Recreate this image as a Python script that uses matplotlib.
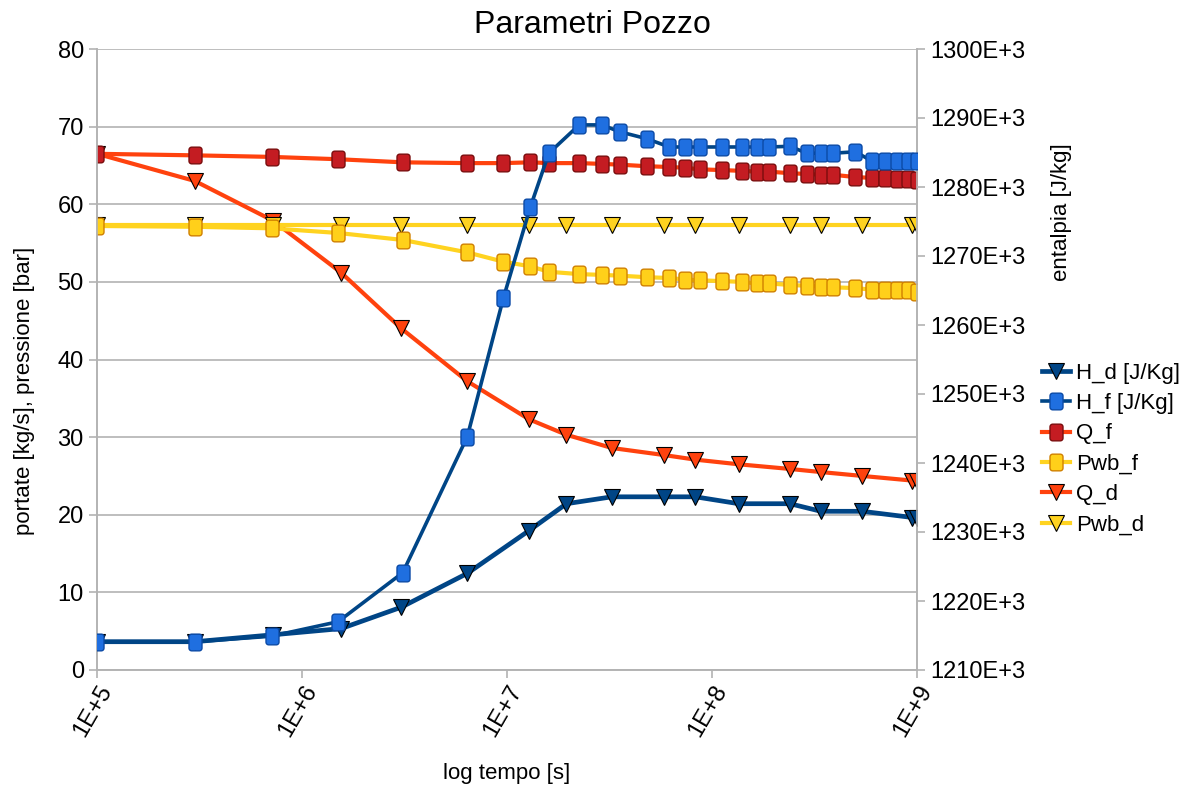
import math
import numpy as np
import matplotlib
matplotlib.use("Agg")
import matplotlib.pyplot as plt
from matplotlib.path import Path
from matplotlib.ticker import FixedLocator, FuncFormatter, NullLocator

plt.rcParams['font.family'] = ['Liberation Sans', 'DejaVu Sans']

# tempi serie "d" e "f" [s]
t_d = [1e5, 3e5, 7.2e5, 1.55e6, 3.05e6, 6.4e6, 1.28e7, 1.95e7, 3.25e7, 5.8e7,
       8.3e7, 1.35e8, 2.4e8, 3.4e8, 5.4e8, 9.5e8, 1e9]
t_f = [1e5, 3e5, 7.1e5, 1.5e6, 3.1e6, 6.4e6, 9.6e6, 1.3e7, 1.6e7, 2.25e7,
       2.9e7, 3.55e7, 4.8e7, 6.2e7, 7.4e7, 8.7e7, 1.12e8, 1.4e8, 1.65e8, 1.9e8,
       2.4e8, 2.9e8, 3.4e8, 3.9e8, 5e8, 6e8, 7e8, 8e8, 9e8, 1e9]

# entalpia [E+3 J/kg]
H_d = [1214.1, 1214.1, 1215.1, 1216.0, 1219.1, 1224.0, 1230.2, 1234.1, 1235.1, 1235.1,
       1235.1, 1234.1, 1234.1, 1233.0, 1233.0, 1232.1, 1232.0]
H_f = [1214.1, 1214.1, 1214.9, 1217.0, 1224.1, 1243.8, 1263.9, 1277.1, 1284.9, 1289.0,
       1289.0, 1288.0, 1287.0, 1285.8, 1285.8, 1285.8, 1285.8, 1285.8, 1285.8, 1285.8,
       1285.9, 1284.9, 1284.9, 1284.9, 1285.1, 1283.8, 1283.8, 1283.8, 1283.8, 1283.8]

# portate [kg/s] e pressioni [bar]
Q_d = [66.5, 63.0, 57.9, 51.2, 44.0, 37.2, 32.3, 30.3, 28.6, 27.7,
       27.1, 26.5, 25.9, 25.5, 25.0, 24.4, 24.3]
Pwb_d = [57.3, 57.3, 57.3, 57.3, 57.3, 57.3, 57.3, 57.3, 57.3, 57.3,
         57.3, 57.3, 57.3, 57.3, 57.3, 57.3, 57.3]
Q_f = [66.5, 66.3, 66.1, 65.8, 65.4, 65.3, 65.3, 65.4, 65.3, 65.3,
       65.2, 65.1, 64.9, 64.8, 64.7, 64.5, 64.4, 64.3, 64.2, 64.2,
       64.0, 63.9, 63.8, 63.8, 63.5, 63.4, 63.4, 63.3, 63.3, 63.1]
Pwb_f = [57.2, 57.1, 56.9, 56.3, 55.4, 53.8, 52.6, 52.0, 51.3, 51.0,
         50.9, 50.8, 50.6, 50.5, 50.3, 50.2, 50.1, 50.0, 49.8, 49.8,
         49.6, 49.5, 49.4, 49.3, 49.2, 49.0, 49.0, 48.9, 48.9, 48.7]

x_ticks = [1e5, 1e6, 1e7, 1e8, 1e9]
left_ticks = [0, 10, 20, 30, 40, 50, 60, 70, 80]
right_ticks = [1210, 1220, 1230, 1240, 1250, 1260, 1270, 1280, 1290, 1300]

grigio = '#b3b3b3'
blu = '#004586'
rosso = '#ff420e'
giallo = '#ffd320'


def quadrato_arrotondato(w=0.78, h=1.0, r=0.16, n=6):
    """marker a forma di rettangolo con angoli arrotondati"""
    pts = []
    for cx, cy, a0 in [(w/2 - r, h/2 - r, 0), (-w/2 + r, h/2 - r, 90),
                       (-w/2 + r, -h/2 + r, 180), (w/2 - r, -h/2 + r, 270)]:
        for a in np.linspace(a0, a0 + 90, n):
            pts.append((cx + r*math.cos(math.radians(a)), cy + r*math.sin(math.radians(a))))
    pts.append(pts[0])
    return Path(pts, closed=True)


mq = quadrato_arrotondato()

fig = plt.figure(figsize=(11.89, 7.91), dpi=100)
ax1 = fig.add_axes([97 / 1189, 1 - 670 / 791, 820 / 1189, 621 / 791])
ax2 = ax1.twinx()

lQd, = ax1.plot(t_d, Q_d, color=rosso, lw=3.0, marker='v', ms=11,
                mfc=rosso, mec='black', mew=0.8, label='Q_d', zorder=2)
lPd, = ax1.plot(t_d, Pwb_d, color=giallo, lw=3.0, marker='v', ms=11,
                mfc=giallo, mec='black', mew=0.8, label='Pwb_d', zorder=2)
lQf, = ax1.plot(t_f, Q_f, color=rosso, lw=3.0, marker=mq, ms=12,
                mfc='#c41c22', mec='#7a0d0d', mew=1.0, label='Q_f', zorder=3)
lPf, = ax1.plot(t_f, Pwb_f, color=giallo, lw=3.0, marker=mq, ms=12,
                mfc='#ffd01a', mec='#d08000', mew=1.0, label='Pwb_f', zorder=3)

lHd, = ax2.plot(t_d, H_d, color=blu, lw=3.4, marker='v', ms=11,
                mfc=blu, mec='black', mew=0.8, label='H_d [J/Kg]', zorder=2)
lHf, = ax2.plot(t_f, H_f, color=blu, lw=2.6, marker=mq, ms=12,
                mfc='#1f6fe0', mec='#0b4aa6', mew=1.0, label='H_f [J/Kg]', zorder=3)

ax1.set_xscale('log')
ax1.set_xlim(1e5, 1e9)
ax1.set_ylim(0, 80)
ax2.set_ylim(1210, 1300)

ax1.xaxis.set_major_locator(FixedLocator(x_ticks))
ax1.xaxis.set_minor_locator(NullLocator())
ax1.xaxis.set_major_formatter(FuncFormatter(lambda v, p: "1E+%d" % round(math.log10(v))))
ax1.yaxis.set_major_locator(FixedLocator(left_ticks))
ax2.yaxis.set_major_locator(FixedLocator(right_ticks))
ax2.yaxis.set_major_formatter(FuncFormatter(lambda v, p: "%dE+3" % round(v)))

ax1.grid(axis='y', color=grigio, lw=1.2)
ax1.set_axisbelow(True)

for ax in (ax1, ax2):
    ax.spines['top'].set_visible(False)
    for s in ('left', 'right', 'bottom'):
        ax.spines[s].set_color(grigio)
        ax.spines[s].set_linewidth(1.2)
    ax.tick_params(colors=grigio, labelcolor='black', labelsize=17, length=6, width=1.2)

ax1.tick_params(axis='x', pad=2)
for lab in ax1.get_xticklabels():
    lab.set_rotation(60)
    lab.set_ha('right')
    lab.set_va('top')
    lab.set_rotation_mode('anchor')

fig.text(592 / 1189, 1 - 25 / 791, 'Parametri Pozzo', fontsize=23, ha='center', va='center')
fig.text(507 / 1189, 1 - 773 / 791, 'log tempo [s]', fontsize=16, ha='center', va='center')
fig.text(25 / 1189, 1 - 391 / 791, 'portate [kg/s], pressione [bar]', fontsize=16,
         rotation=90, ha='center', va='center')
fig.text(1062 / 1189, 1 - 212 / 791, 'entalpia [J/kg]', fontsize=16,
         rotation=90, ha='center', va='center')

handles = [lHd, lHf, lQf, lPf, lQd, lPd]
fig.legend(handles, [h.get_label() for h in handles], loc='center left',
           bbox_to_anchor=(1042 / 1189, 1 - 449 / 791), frameon=False, fontsize=16,
           handlelength=1.25, handletextpad=0.3, labelspacing=0.42, borderaxespad=0,
           borderpad=0)

fig.savefig('out.png', dpi=100)
